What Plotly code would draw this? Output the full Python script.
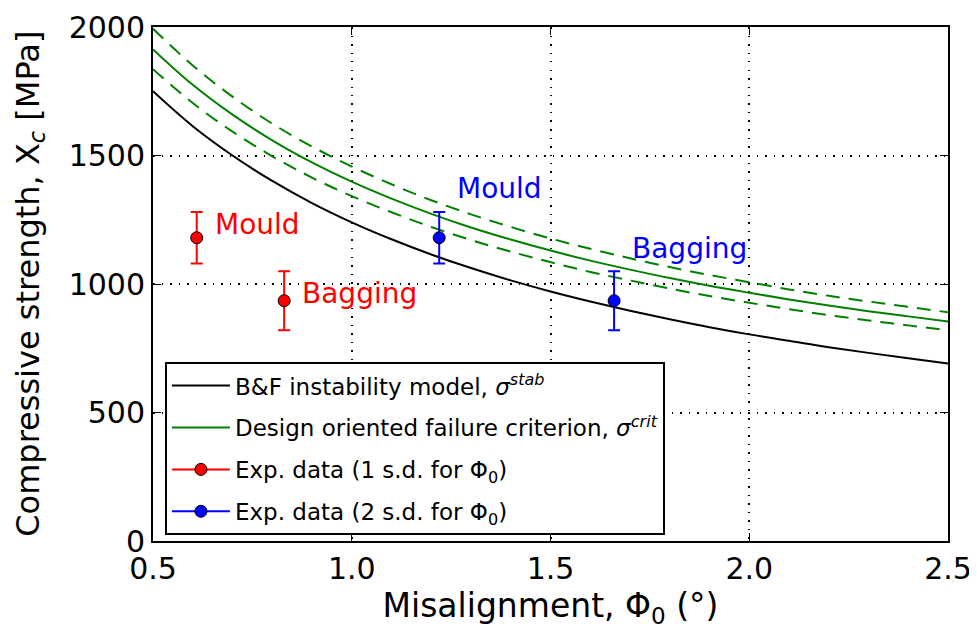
import plotly.graph_objects as go

# Misalignment grid (deg)
phi = [0.5, 0.6, 0.7, 0.8, 0.9, 1.0, 1.1, 1.2, 1.3, 1.4, 1.5,
       1.6, 1.7, 1.8, 1.9, 2.0, 2.1, 2.2, 2.3, 2.4, 2.5]

# B&F instability model
sigma_stab = [1750, 1614, 1500, 1401, 1315, 1240, 1174, 1115, 1062, 1014, 971,
              932, 896, 863, 832, 804, 779, 754, 732, 711, 691]

# Design oriented failure criterion (mean, upper, lower)
sigma_crit = [1913, 1775, 1659, 1559, 1473, 1398, 1332, 1273, 1220, 1173, 1130,
              1091, 1056, 1023, 993, 966, 940, 916, 894, 874, 854]
sigma_crit_up = [1993, 1850, 1729, 1624, 1535, 1457, 1388, 1326, 1271, 1222, 1177,
                 1137, 1100, 1066, 1035, 1007, 979, 954, 932, 911, 890]
sigma_crit_lo = [1836, 1704, 1593, 1497, 1414, 1342, 1279, 1222, 1171, 1126, 1085,
                 1047, 1014, 982, 953, 927, 902, 879, 858, 839, 820]

# Experimental data
exp_labels = ["Mould", "Bagging"]
exp1_phi = [0.61, 0.83]
exp2_phi = [1.22, 1.66]
exp_xc = [1180, 935]
exp_err = [100, 115]

FONT = "DejaVu Sans"
GREEN = "#008000"

fig = go.Figure()

fig.add_trace(go.Scatter(x=phi, y=sigma_stab, mode="lines", line=dict(color="black", width=2, shape="spline"),
                         name="B&F instability model, <i>σ</i><sup><i>stab</i></sup>", legendgroup="a"))
fig.add_trace(go.Scatter(x=phi, y=sigma_crit, mode="lines", line=dict(color=GREEN, width=2, shape="spline"),
                         name="Design oriented failure criterion, <i>σ</i><sup><i>crit</i></sup>", legendgroup="b"))
fig.add_trace(go.Scatter(x=phi, y=sigma_crit_up, mode="lines", line=dict(color=GREEN, width=2, dash="14px,9px", shape="spline"),
                         showlegend=False, legendgroup="b"))
fig.add_trace(go.Scatter(x=phi, y=sigma_crit_lo, mode="lines", line=dict(color=GREEN, width=2, dash="14px,9px", shape="spline"),
                         showlegend=False, legendgroup="b"))

for xs, col, nm, grp in [(exp1_phi, "#ff0000", "Exp. data (1 s.d. for Φ<sub>0</sub>)", "c"),
                         (exp2_phi, "#0000ff", "Exp. data (2 s.d. for Φ<sub>0</sub>)", "d")]:
    fig.add_trace(go.Scatter(x=xs, y=exp_xc, mode="markers",
                             marker=dict(color=col, size=12, line=dict(color="black", width=1)),
                             error_y=dict(type="data", array=exp_err, color=col, thickness=2, width=6),
                             showlegend=False, legendgroup=grp))
    # legend entry only
    fig.add_trace(go.Scatter(x=[None], y=[None], mode="lines+markers",
                             line=dict(color=col, width=2),
                             marker=dict(color=col, size=12, line=dict(color="black", width=1)),
                             name=nm, legendgroup=grp))

ann = [
    (exp1_phi[0] + 0.04, 1230, exp_labels[0], "#ff0000"),
    (exp1_phi[1] + 0.04, 962, exp_labels[1], "#ff0000"),
    (exp2_phi[0] + 0.04, 1372, exp_labels[0], "#0000ff"),
    (exp2_phi[1] + 0.04, 1140, exp_labels[1], "#0000ff"),
]
for x, y, t, c in ann:
    fig.add_annotation(x=x, y=y, text=t, showarrow=False, xanchor="left", yanchor="middle",
                       font=dict(family=FONT, size=28, color=c))

# y-axis title placed as a rotated paper annotation for exact position
fig.add_annotation(x=-0.155, y=0.5, xref="paper", yref="paper", xanchor="center", yanchor="middle",
                   text="Compressive strength, X<sub><i>c</i></sub> [MPa]", textangle=-90, showarrow=False,
                   font=dict(family=FONT, size=32, color="black"))

axis_common = dict(showline=True, linecolor="black", linewidth=2, mirror="ticks",
                   ticks="inside", ticklen=8, tickwidth=1, tickcolor="black",
                   showgrid=True, gridcolor="black", gridwidth=1.5, griddash="1.5px,7px",
                   zeroline=False, automargin=False, ticklabeloverflow="allow",
                   tickfont=dict(family=FONT, size=30, color="black"))

fig.update_xaxes(range=[0.5, 2.5], tickvals=[0.5, 1.0, 1.5, 2.0, 2.5],
                 ticktext=["0.5", "1.0", "1.5", "2.0", "2.5"],
                 title=dict(text="Misalignment, Φ<sub>0</sub> (°)", font=dict(family=FONT, size=33, color="black"), standoff=3),
                 **axis_common)
fig.update_yaxes(range=[0, 2000], tickvals=[0, 500, 1000, 1500, 2000],
                 **axis_common)

# page body has an 8px margin: size the figure so the plot area lands where the reference has it
fig.update_layout(
    width=969, height=624,
    margin=dict(l=145, r=29, t=19, b=91),
    plot_bgcolor="white", paper_bgcolor="white",
    font=dict(family=FONT, color="black"),
    legend=dict(x=0.015, y=0.348, xanchor="left", yanchor="top",
                bgcolor="white", bordercolor="black", borderwidth=2,
                font=dict(family=FONT, size=23, color="black"),
                traceorder="grouped", tracegroupgap=9, itemwidth=58),
)

fig.write_html("out.html")
